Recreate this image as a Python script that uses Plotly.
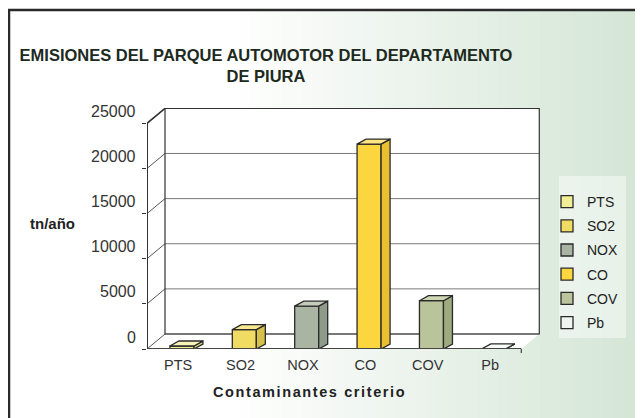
import plotly.graph_objects as go

categories = ["PTS", "SO2", "NOX", "CO", "COV", "Pb"]
values = [330, 2150, 4750, 22700, 5350, 20]
colors = ["#f2ee96", "#f0dc62", "#a9b4a2", "#fcd63e", "#b9c49a", "#eef4ee"]
side_colors = ["#d8d47a", "#d6c24a", "#8f9a88", "#e8c030", "#9eaa80", "#d0d8d0"]
top_colors = ["#f8f4b8", "#f6e890", "#c4ccbc", "#fde680", "#cfd8b4", "#f8fcf8"]
ytick_vals = [0, 5000, 10000, 15000, 20000, 25000]
ytick_text = ["0", "5000", "10000", "15000", "20000", "25000"]

# page offset from default body margin
OFF = 8
PAGE_W, PAGE_H = 643, 418
W, H = PAGE_W - OFF, PAGE_H - OFF

# target plot area in page pixels
PL, PR, PT, PB = 147, 540, 108, 349
ML, MT = PL - OFF, PT - OFF
MR, MB = W - (PR - OFF), H - (PB - OFF)
PW, PH = PR - PL, PB - PT
XR = [-0.5, 5.8]
YR = [0, 26700]
ux = PW / (XR[1] - XR[0])
uy = PH / (YR[1] - YR[0])

def pxx(px):  # page x -> paper
    return (px - PL) / PW

def pxy(py):  # page y -> paper
    return (PB - py) / PH

# 3D offsets
bw = 0.385
bdx = 9 / ux
bdy = 5 / uy
wdx = 18 / ux
wdy = 15 / uy
xoff = 0.06

fig = go.Figure()

shapes = []
# background gradient (decoration)
n = 40
x0p, x1p = 230, PAGE_W
for i in range(n):
    t = i / (n - 1)
    r = int(255 - t * (255 - 212))
    g = int(255 - t * (255 - 230))
    b = int(255 - t * (255 - 214))
    xa = x0p + (x1p - x0p) * i / n
    xb = x0p + (x1p - x0p) * (i + 1) / n + 1
    shapes.append(dict(type="rect", xref="paper", yref="paper",
                       x0=pxx(xa), x1=pxx(xb), y0=pxy(PAGE_H + 5), y1=pxy(10),
                       fillcolor=f"rgb({r},{g},{b})", line=dict(width=0), layer="below"))
# legend box (lighter)
shapes.append(dict(type="rect", xref="paper", yref="paper",
                   x0=pxx(559), x1=pxx(626), y0=pxy(338), y1=pxy(176),
                   fillcolor="rgba(255,255,255,0.45)", line=dict(width=0), layer="below"))
# outer frame
shapes.append(dict(type="rect", xref="paper", yref="paper",
                   x0=pxx(OFF + 1), x1=pxx(PAGE_W + 10),
                   y0=pxy(PAGE_H + 10), y1=pxy(10),
                   line=dict(color="#2a2a2a", width=2.5), fillcolor="rgba(0,0,0,0)", layer="below"))
# walls (white)
shapes.append(dict(type="path", xref="x", yref="y",
                   path=f"M {XR[0]},0 L {XR[0]},{ytick_vals[-1]} L {XR[0]+wdx},{ytick_vals[-1]+wdy} "
                        f"L {5.5+wdx},{ytick_vals[-1]+wdy} L {5.5+wdx},{wdy} L 5.5,0 Z",
                   fillcolor="white", line=dict(width=0), layer="below"))
# back wall gridlines and left wall lines
for v in ytick_vals:
    shapes.append(dict(type="line", xref="x", yref="y", x0=XR[0] + wdx, x1=5.5 + wdx,
                       y0=v + wdy, y1=v + wdy, line=dict(color="#7a7a7a", width=1), layer="below"))
    shapes.append(dict(type="line", xref="x", yref="y", x0=XR[0], x1=XR[0] + wdx,
                       y0=v, y1=v + wdy, line=dict(color="#555", width=1), layer="below"))
# back wall outline
shapes.append(dict(type="rect", xref="x", yref="y", x0=XR[0] + wdx, x1=5.5 + wdx,
                   y0=wdy, y1=ytick_vals[-1] + wdy, line=dict(color="#333", width=1.2), layer="below"))
# left wall top edge and front axis
shapes.append(dict(type="line", xref="x", yref="y", x0=XR[0], x1=XR[0] + wdx,
                   y0=ytick_vals[-1], y1=ytick_vals[-1] + wdy, line=dict(color="#333", width=1.5)))
shapes.append(dict(type="line", xref="x", yref="y", x0=XR[0], x1=XR[0],
                   y0=0, y1=ytick_vals[-1], line=dict(color="#333", width=2)))
# floor front edge
shapes.append(dict(type="line", xref="x", yref="y", x0=XR[0], x1=5.5,
                   y0=0, y1=0, line=dict(color="#444", width=2)))
shapes.append(dict(type="line", xref="x", yref="paper", x0=5.5, x1=5.5,
                   y0=0, y1=pxy(PB + 4), line=dict(color="#444", width=1.2)))

# bars
for i, (c, v) in enumerate(zip(categories, values)):
    xc = i + xoff
    xl, xr = xc - bw / 2, xc + bw / 2
    fig.add_trace(go.Bar(x=[xc], y=[v], width=bw, name=c, legendgroup=c,
                         marker=dict(color=colors[i], line=dict(color="#2a2a2a", width=1.3)),
                         hoverinfo="x+y"))
    fig.add_trace(go.Scatter(x=[xr, xr + bdx, xr + bdx, xr, xr],
                             y=[0, bdy, v + bdy, v, 0], fill="toself", mode="lines",
                             fillcolor=side_colors[i], line=dict(color="#2a2a2a", width=1.3),
                             showlegend=False, hoverinfo="skip"))
    fig.add_trace(go.Scatter(x=[xl, xr, xr + bdx, xl + bdx, xl],
                             y=[v, v, v + bdy, v + bdy, v], fill="toself", mode="lines",
                             fillcolor=top_colors[i], line=dict(color="#2a2a2a", width=1.3),
                             showlegend=False, hoverinfo="skip"))

annotations = [
    dict(text="<b>tn/año</b>", xref="paper", yref="paper",
         x=pxx(52), y=pxy(223), xanchor="center", yanchor="middle", showarrow=False,
         font=dict(size=15, color="#222")),
    dict(text="<b><span style=\"letter-spacing:1.6px\">Contaminantes criterio</span></b>",
         xref="paper", yref="paper", xanchor="center", yanchor="middle",
         x=pxx(309), y=pxy(392), showarrow=False,
         font=dict(size=14.5, color="#222")),
]
# y tick labels (sit at the height of the back-wall gridlines, as in the 3D chart)
for v, t in zip(ytick_vals, ytick_text):
    annotations.append(dict(text=t, xref="paper", yref="y", x=pxx(138), y=v + wdy,
                            yshift=-3,
                            xanchor="right", yanchor="middle", showarrow=False,
                            font=dict(size=16, color="#333")))

fig.update_layout(
    width=W, height=H,
    margin=dict(l=ML, r=MR, t=MT, b=MB, autoexpand=False),
    paper_bgcolor="white",
    plot_bgcolor="rgba(0,0,0,0)",
    barmode="overlay",
    font=dict(family="Liberation Sans, Arial", color="#222"),
    title=dict(text="<b>EMISIONES DEL PARQUE AUTOMOTOR DEL DEPARTAMENTO<br>DE PIURA</b>",
               x=(266 - OFF) / W, y=1 - (61 - OFF) / H, xanchor="center", yanchor="middle",
               xref="container", yref="container",
               font=dict(size=16.5, color="#1e2a1e", family="Liberation Sans, Arial")),
    xaxis=dict(range=XR, tickvals=list(range(len(categories))), ticktext=categories,
               showgrid=False, zeroline=False, showline=False, ticks="",
               ticklabelstandoff=5,
               tickfont=dict(size=14.5, color="#333"), fixedrange=True),
    yaxis=dict(range=YR, tickvals=ytick_vals, showticklabels=False,
               showgrid=False, zeroline=False, showline=False, ticks="outside",
               ticklen=4, tickcolor="#333", fixedrange=True),
    legend=dict(x=pxx(547), y=pxy(186), xanchor="left", yanchor="top",
                bgcolor="rgba(0,0,0,0)", font=dict(size=14, color="#222"),
                traceorder="grouped", tracegroupgap=3, itemwidth=30),
    shapes=shapes,
    annotations=annotations,
)

fig.write_html("out.html")
